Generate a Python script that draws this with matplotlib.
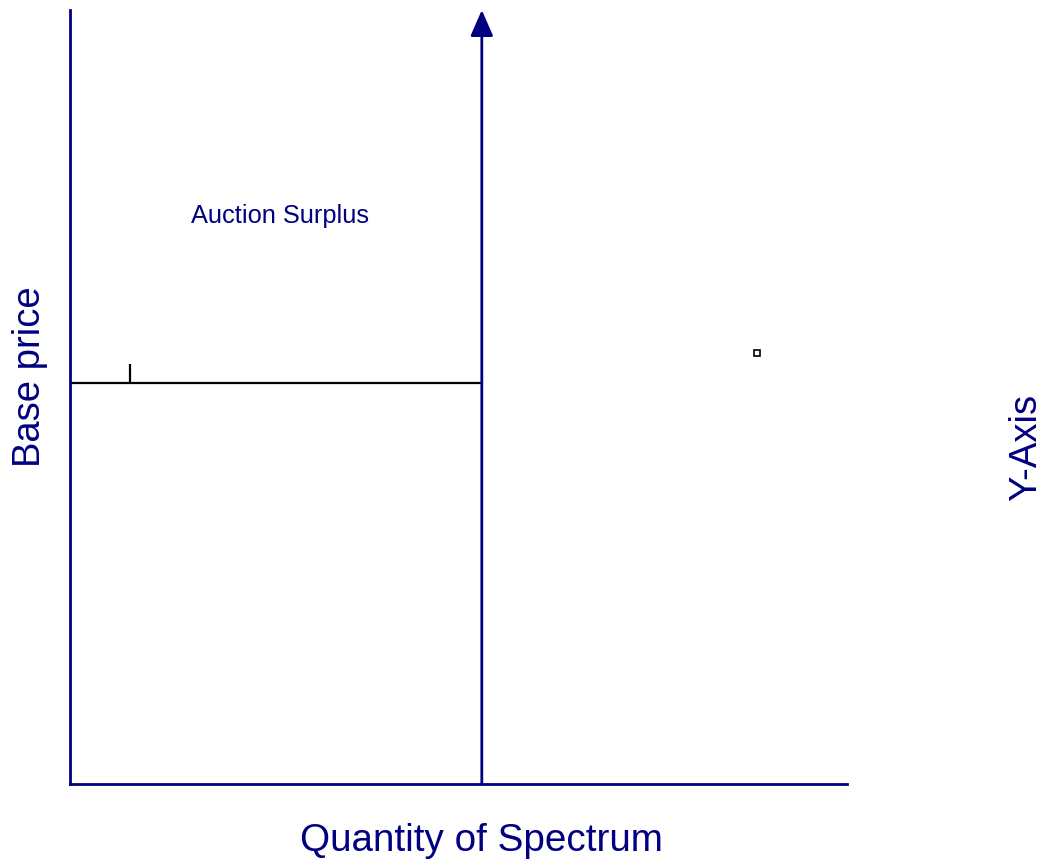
import matplotlib
matplotlib.use("Agg")
import matplotlib.pyplot as plt

plt.rcParams['font.family'] = ['Liberation Sans', 'DejaVu Sans']

# values (axes run 0..100 both ways)
supply_x = [53.0, 53.0]
supply_y = [0.0, 100.0]
base_x = [0.0, 53.0]
base_y = [51.8, 51.8]
tick_x = [7.7, 7.7]
tick_y = [51.8, 54.3]
point_x = [88.4]
point_y = [55.7]

navy = "#000080"

fig = plt.figure(figsize=(10.47, 8.65), dpi=100)
ax = fig.add_axes([70 / 1047, 1 - 784 / 865, 777 / 1047, 774 / 865])
ax.set_xlim(0, 100)
ax.set_ylim(0, 100)

for side in ["top", "right"]:
    ax.spines[side].set_visible(False)
for side in ["left", "bottom"]:
    ax.spines[side].set_color(navy)
    ax.spines[side].set_linewidth(2.0)
ax.set_xticks([])
ax.set_yticks([])

# supply line with arrow head
ax.annotate("", xy=(supply_x[1], supply_y[1]), xytext=(supply_x[0], supply_y[0]),
            arrowprops=dict(arrowstyle="-|>,head_length=0.55,head_width=0.24",
                            color=navy, lw=2, mutation_scale=29,
                            shrinkA=0, shrinkB=0), annotation_clip=False)

ax.plot(base_x, base_y, color="black", lw=1.6, solid_capstyle="butt", clip_on=False)
ax.plot(tick_x, tick_y, color="black", lw=1.6, solid_capstyle="butt")
ax.plot(point_x, point_y, marker="s", ms=4, mfc="white", mec="black", mew=1.2, ls="none")

ax.text(27.0, 73.4, "Auction Surplus", color=navy, fontsize=18.3, ha="center", va="center")

ax.text((481 - 70) / 777, (784 - 841) / 774, "Quantity of Spectrum", color=navy,
        fontsize=27.8, ha="center", va="center", transform=ax.transAxes)
ax.text((30 - 70) / 777, (784 - 377) / 774, "Base price", color=navy,
        fontsize=27.5, ha="center", va="center", rotation=90, transform=ax.transAxes)
fig.text(1026 / 1047, 1 - 447 / 865, "Y-Axis", color=navy, fontsize=27.5,
         ha="center", va="center", rotation=90)

fig.savefig("out.png", dpi=100)
